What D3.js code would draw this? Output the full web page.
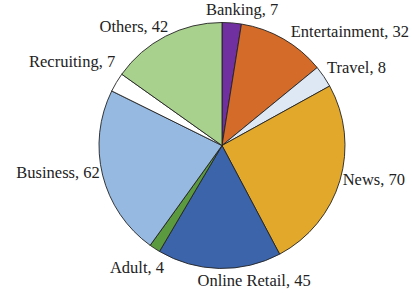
<!DOCTYPE html>
<html>
<head>
<meta charset="utf-8">
<script src="https://cdn.jsdelivr.net/npm/d3@7"></script>
<style>
  body { margin: 0; background: #fff; }
  svg { display: block; }
</style>
</head>
<body>
<div id="chart"></div>
<script>
var categories = ["Banking", "Entertainment", "Travel", "News", "Online Retail", "Adult", "Business", "Recruiting", "Others"];
var values = [7, 32, 8, 70, 45, 4, 62, 7, 42];
var colors = ["#7030a0", "#d46b29", "#dee8f5", "#e2a82b", "#3c64aa", "#5b9a3e", "#95b9e0", "#ffffff", "#a9d18e"];

// small label tweaks, the way the original placed them
var labelNudge = {
    "Banking": [10, -3], "Entertainment": [5, 2], "Travel": [-1, -3], "News": [-2, -3],
    "Online Retail": [35, 3], "Adult": [12, 11], "Business": [2, -5], "Recruiting": [3, -15], "Others": [5, 0]
};

var w = 412, h = 297;
var cx = 222, cy = 145.5, r = 123;

var data = categories.map(function (c, i) { return {name: c, value: values[i], color: colors[i]}; });

var svg = d3.select("#chart").append("svg")
    .attr("width", w)
    .attr("height", h);

var pie = d3.pie().sort(null).value(function (d) { return d.value; });
var arcs = pie(data);
var arc = d3.arc().innerRadius(0).outerRadius(r);

var g = svg.append("g").attr("transform", "translate(" + cx + "," + cy + ")");

g.selectAll("path")
    .data(arcs)
    .enter()
    .append("path")
    .attr("d", arc)
    .attr("fill", function (d) { return d.data.color; })
    .attr("stroke", "#222")
    .attr("stroke-width", 0.9);

var R = 128;
g.selectAll("text")
    .data(arcs)
    .enter()
    .append("text")
    .text(function (d) { return d.data.name + ", " + d.data.value; })
    .each(function (d) {
        var a = (d.startAngle + d.endAngle) / 2;
        var s = Math.sin(a), c = Math.cos(a);
        var n = labelNudge[d.data.name] || [0, 0];
        var anchor = s > 0.2 ? "start" : (s < -0.2 ? "end" : "middle");
        d3.select(this)
            .attr("x", R * s + n[0])
            .attr("y", -R * c + 5 - c * 5 + n[1])
            .attr("text-anchor", anchor);
    })
    .attr("font-family", "'Liberation Serif', 'Times New Roman', serif")
    .attr("font-size", "16.5px")
    .attr("fill", "#222");
</script>
</body>
</html>
